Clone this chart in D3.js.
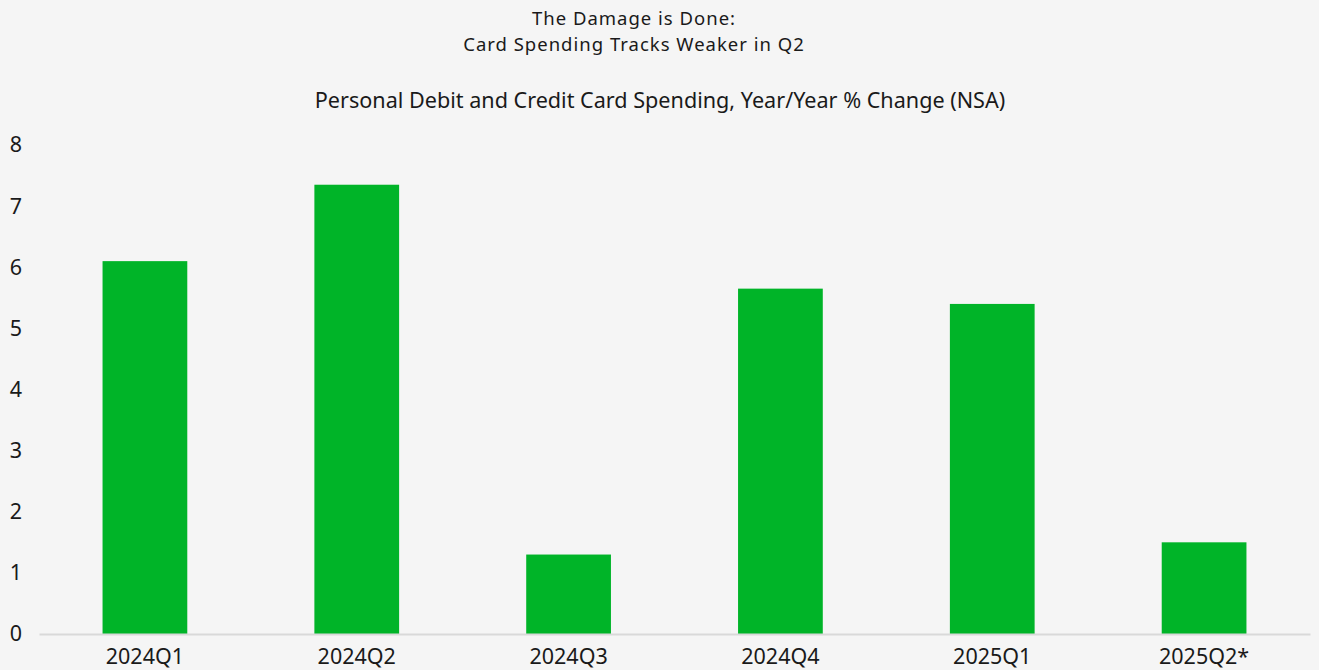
<!DOCTYPE html>
<html>
<head>
<meta charset="utf-8">
<script src="https://cdn.jsdelivr.net/npm/d3@7"></script>
<style>
  html, body { margin: 0; padding: 0; background: #f5f5f5; }
  svg { display: block; font-family: "Noto Sans", "Open Sans", sans-serif; }
</style>
</head>
<body>
<svg id="chart" width="1319" height="670"></svg>
<script>
// Quarterly card spending, year/year % change
const quarters = ["2024Q1", "2024Q2", "2024Q3", "2024Q4", "2025Q1", "2025Q2*"];
const yoyChange = [6.1, 7.35, 1.3, 5.65, 5.4, 1.5];
const yTicks = [0, 1, 2, 3, 4, 5, 6, 7, 8];
const titleLines = ["The Damage is Done:", "Card Spending Tracks Weaker in Q2"];
const subtitle = "Personal Debit and Credit Card Spending, Year/Year % Change (NSA)";

const W = 1319, H = 670;
const margin = { top: 145, right: 9, bottom: 36, left: 39 };
const fontFamily = "'Noto Sans', 'Open Sans', sans-serif";
const textColor = "#1a1a1a";
const svg = d3.select("#chart");

svg.append("rect").attr("width", W).attr("height", H).attr("fill", "#f5f5f5");

const x = d3.scaleBand()
  .domain(quarters)
  .range([margin.left, W - margin.right])
  .paddingInner(0.6)
  .paddingOuter(0.3);

const y = d3.scaleLinear()
  .domain([0, 8])
  .range([H - margin.bottom, margin.top]);

// Two-line title
svg.append("g")
  .selectAll("text")
  .data(titleLines)
  .join("text")
  .attr("x", 634)
  .attr("y", (d, i) => 25 + i * 25.5)
  .attr("text-anchor", "middle")
  .attr("font-size", 18.5)
  .attr("letter-spacing", 1)
  .attr("fill", textColor)
  .text(d => d);

svg.append("text")
  .attr("x", 660)
  .attr("y", 108)
  .attr("text-anchor", "middle")
  .attr("font-size", 21.6)
  .attr("fill", textColor)
  .text(subtitle);

// Bars
svg.append("g")
  .selectAll("rect")
  .data(quarters.map((q, i) => ({ q, v: yoyChange[i] })))
  .join("rect")
  .attr("x", d => x(d.q))
  .attr("width", x.bandwidth())
  .attr("y", d => y(d.v))
  .attr("height", d => y(0) - y(d.v))
  .attr("fill", "#00b428");

// Y axis (labels only)
const yAxis = d3.axisLeft(y).tickValues(yTicks).tickSize(0).tickPadding(0);
const gy = svg.append("g")
  .attr("transform", `translate(16,0)`)
  .call(yAxis);
gy.select(".domain").remove();
gy.selectAll("text")
  .attr("font-size", 21.5)
  .attr("fill", textColor)
  .attr("text-anchor", "middle")
  .attr("font-family", fontFamily);

// X axis baseline and labels
const xAxis = d3.axisBottom(x).tickSize(0).tickPadding(15);
const gx = svg.append("g")
  .attr("transform", `translate(0,${y(0)})`)
  .call(xAxis);
gx.select(".domain")
  .attr("stroke", "#d9d9d9")
  .attr("stroke-width", 2);
gx.selectAll("text")
  .attr("font-size", 21.5)
  .attr("fill", textColor)
  .attr("font-family", fontFamily);
</script>
</body>
</html>
